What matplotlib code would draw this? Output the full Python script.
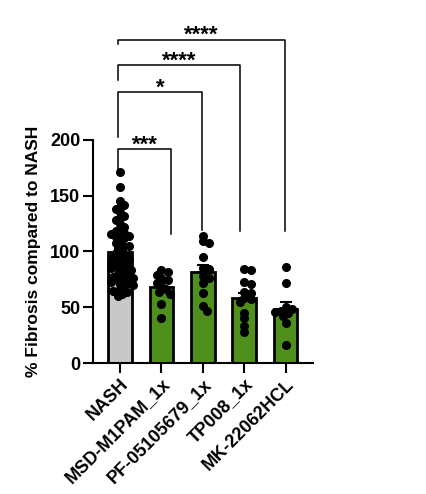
import numpy as np
import matplotlib
matplotlib.use('Agg')
from matplotlib import pyplot as plt
from matplotlib import rcParams
rcParams['font.family'] = ['Liberation Sans', 'DejaVu Sans']
rcParams['font.weight'] = 'bold'
rcParams['font.size'] = 13

# values (% fibrosis compared to NASH)
groups = ['NASH', 'MSD-M1PAM_1x', 'PF-05105679_1x', 'TP008_1x', 'MK-22062HCL']
nash = [171, 158, 145, 142, 140, 138, 135, 132, 130, 128, 125, 122, 120, 118, 117, 116,
        115, 114, 113, 112, 110, 108, 106, 105, 103, 101, 99, 97, 96, 95, 93, 92, 91, 90,
        88, 87, 86, 85, 84, 83, 82, 80, 79, 78, 77, 76, 75, 74, 73, 72, 71, 70, 68, 66,
        65, 64, 62, 60]
msd = [83, 82, 79, 76, 74, 72, 69, 66, 64, 62, 53, 40]
pf = [114, 109, 108, 95, 85, 84, 78, 76, 72, 63, 51, 47]
tp008 = [84, 83, 73, 71, 64, 63, 58, 57, 55, 45, 40, 33, 28]
mk = [86, 72, 50, 48, 47, 46, 45, 42, 36, 16]
values = [nash, msd, pf, tp008, mk]
stars = ['***', '*', '****', '****']

gray = '#c8c8c8'
green = '#4f8f1b'
barColors = [gray, green, green, green, green]

W, H = 427, 494
fig = plt.figure(figsize=(W / 100, H / 100), dpi=100)
ax = fig.add_axes([93 / W, 131 / H, 220 / W, 223 / H])
xmin, xmax = -0.652, 4.662
ax.set_xlim(xmin, xmax)
ax.set_ylim(0, 200)

pxX = 220 / (xmax - xmin)
pxY = 223 / 200.


def swarm(vals, diam, minFrac):
    # simple beeswarm in pixel space, returns x offsets in data units
    order = np.argsort(vals)[::-1]
    placed = []
    offs = np.zeros(len(vals))
    step = diam * 0.3
    for i in order:
        y = vals[i] * pxY
        k = 0
        while True:
            c = ((k + 1) // 2) * step * (1 if k % 2 else -1) if k else 0.0
            if all((c - px) ** 2 + (y - py) ** 2 >= (minFrac * diam) ** 2 for px, py in placed):
                break
            k += 1
        placed.append((c, y))
        offs[i] = c / pxX
    return offs


x = np.arange(len(groups))
means = [np.mean(v) for v in values]
sems = [np.std(v, ddof=1) / np.sqrt(len(v)) for v in values]

ax.bar(x, means, width=0.57, color=barColors, edgecolor='black', linewidth=2, zorder=2)
for i, v in enumerate(values):
    offs = swarm(v, 7.3, 0.66 if len(v) > 30 else 0.75)
    ax.plot(x[i] + offs, v, 'o', color='black', markersize=5.5, zorder=3, clip_on=False)
ax.errorbar(x, means, yerr=[np.zeros(len(x)), sems], fmt='none', ecolor='black',
            elinewidth=1.5, capsize=4.5, capthick=1.5, zorder=4)

# significance brackets
leftX = -0.04
rightX = [1.23, 1.97, 2.90, 3.98]
tops = [192, 242.7, 267, 290]
leftBottoms = [173, 203, 254, 286]
rightBottoms = [116, 119.4, 118, 118]
for j in range(4):
    ax.plot([leftX, leftX, rightX[j], rightX[j]], [leftBottoms[j], tops[j], tops[j], rightBottoms[j]],
            color='black', linewidth=1.1, clip_on=False, zorder=5)
    ax.annotate(stars[j], xy=((leftX + rightX[j]) / 2, tops[j]), xytext=(0, -1),
                textcoords='offset points', ha='center', va='baseline', fontsize=16,
                fontweight='bold', annotation_clip=False)

ax.spines['top'].set_visible(False)
ax.spines['right'].set_visible(False)
ax.spines['left'].set_linewidth(1.5)
ax.spines['bottom'].set_linewidth(1.5)
ax.tick_params(axis='both', length=7, width=1.5, pad=2, labelsize=13)
ax.set_yticks([0, 50, 100, 150, 200])
ax.set_xticks(x)
ax.set_xticklabels(groups, rotation=45, ha='right', rotation_mode='anchor')
ax.set_ylabel('% Fibrosis compared to NASH', fontsize=12.5, fontweight='bold', labelpad=7)

plt.savefig('out.png', dpi=100)
